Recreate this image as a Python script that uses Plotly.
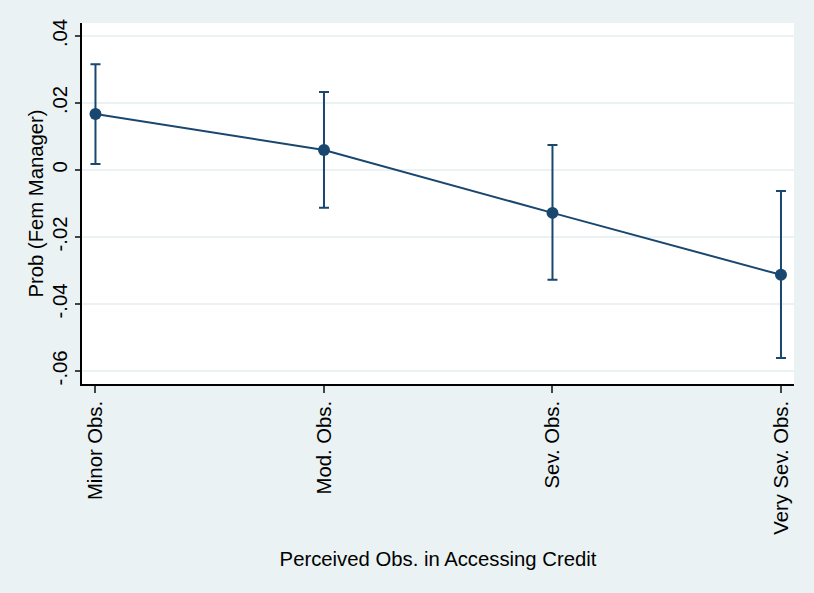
import plotly.graph_objects as go

# Marginal effects on probability of a female manager by credit obstacle level
categories = ["Minor Obs.", "Mod. Obs.", "Sev. Obs.", "Very Sev. Obs."]
estimate = [0.0167, 0.0060, -0.0128, -0.0313]
ci_low = [0.0018, -0.0113, -0.0328, -0.0561]
ci_high = [0.0316, 0.0233, 0.0075, -0.0063]

y_tickvals = [-0.06, -0.04, -0.02, 0.0, 0.02, 0.04]
y_ticktext = ["-.06", "-.04", "-.02", "0", ".02", ".04"]

NAVY = "#1a476f"
BG = "#eaf2f3"
FONT = "Liberation Sans, Arial, sans-serif"
FS = 20.3

err_plus = [h - e for h, e in zip(ci_high, estimate)]
err_minus = [e - l for e, l in zip(estimate, ci_low)]

fig = go.Figure()
fig.add_trace(go.Scatter(
    x=categories,
    y=estimate,
    mode="lines+markers",
    line=dict(color=NAVY, width=2),
    marker=dict(color=NAVY, size=12),
    error_y=dict(type="data", symmetric=False, array=err_plus,
                 arrayminus=err_minus, color=NAVY, thickness=2, width=5),
    showlegend=False,
))

fig.update_layout(
    width=814, height=593,
    margin=dict(l=82, r=20, t=23, b=209),
    paper_bgcolor=BG,
    plot_bgcolor="white",
    font=dict(family=FONT, size=FS, color="black"),
    xaxis=dict(
        type="category",
        range=[-0.059, 3.057],
        tickangle=-90,
        ticks="outside", ticklen=7, tickcolor="#444", tickwidth=1.5,
        showline=True, linecolor="black", linewidth=1.5,
        showgrid=False, zeroline=False,
        title=dict(text="Perceived Obs. in Accessing Credit", standoff=18,
                   font=dict(size=FS)),
        tickfont=dict(size=FS),
    ),
    yaxis=dict(
        range=[-0.0639, 0.0439],
        tickvals=y_tickvals, ticktext=y_ticktext,
        tickangle=-90,
        ticks="outside", ticklen=5, tickcolor="#444", tickwidth=1.5,
        showline=True, linecolor="black", linewidth=1.5,
        showgrid=True, gridcolor=BG, gridwidth=2,
        zeroline=False,
        title=dict(text="Prob (Fem Manager)", standoff=0, font=dict(size=FS)),
        tickfont=dict(size=FS),
    ),
)

fig.write_html("out.html")
